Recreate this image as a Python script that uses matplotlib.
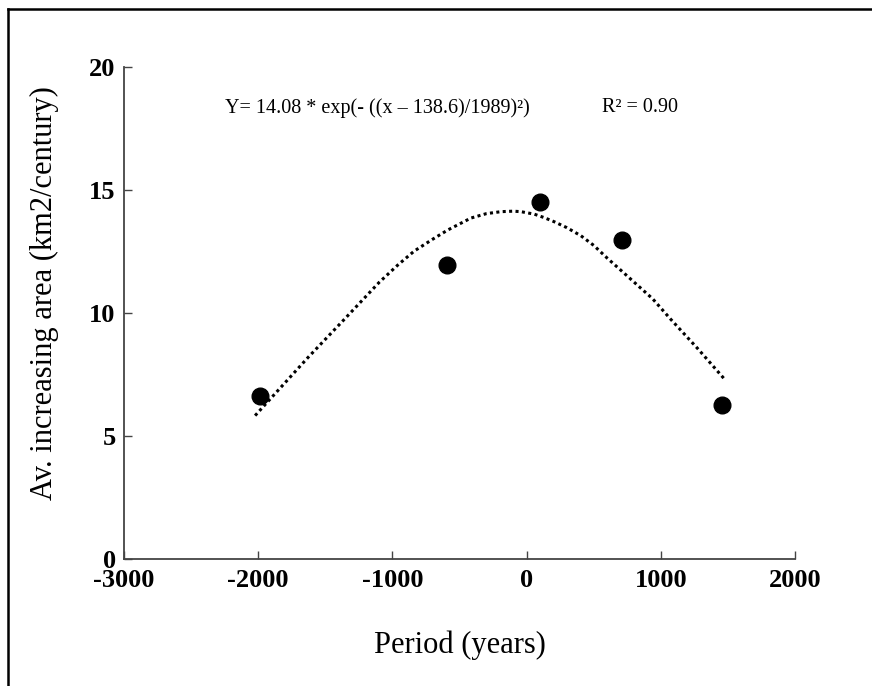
import matplotlib
matplotlib.use('Agg')
import matplotlib.pyplot as plt
from matplotlib.lines import Line2D

plt.rcParams['font.family'] = ['Liberation Serif', 'DejaVu Serif']
plt.rcParams['axes.unicode_minus'] = False

# observed points
period = [-1990, -592, 101, 711, 1459]
area = [6.61, 11.94, 14.50, 12.95, 6.25]

# fitted curve
fit_x = [-2023, -1631, -1359, -1098, -960, -837, -700, -589, -415, -300, -191,
         -100, -42, 57, 130, 206, 300, 405, 500, 603, 700, 802, 939, 1075,
         1274, 1480]
fit_y = [5.83, 8.18, 9.74, 11.25, 11.95, 12.52, 13.00, 13.37, 13.86, 14.04,
         14.12, 14.14, 14.12, 14.02, 13.88, 13.71, 13.47, 13.14, 12.75, 12.22,
         11.75, 11.25, 10.58, 9.74, 8.56, 7.28]

xticks = [-3000, -2000, -1000, 0, 1000, 2000]
yticks = [0, 5, 10, 15, 20]

fig = plt.figure(figsize=(8.72, 6.86), dpi=100)
ax = fig.add_axes([0.1422, 0.1851, 0.7695, 0.7172])

ax.plot(fit_x, fit_y, color='black', linestyle=(0, (1, 1.1)), linewidth=2.2)
ax.plot(period, area, 'o', color='black', markersize=12)

ax.set_xlim(-3000, 2000)
ax.set_ylim(0, 20)
ax.set_xticks(xticks)
ax.set_xticklabels([str(t) for t in xticks], fontweight='bold', fontsize=19)
ax.set_yticks(yticks)
ax.set_yticklabels([str(t) for t in yticks], fontweight='bold', fontsize=19)
ax.tick_params(direction='in', length=6, width=1, color='#444444', pad=6)
ax.tick_params(axis='x', pad=7)

for s in ['top', 'right']:
    ax.spines[s].set_visible(False)
for s in ['left', 'bottom']:
    ax.spines[s].set_color('#444444')
    ax.spines[s].set_linewidth(1.3)

ax.set_xlabel('Period (years)', fontsize=22, labelpad=28)
ax.set_ylabel('Av. increasing area (km2/century)', fontsize=22)
ax.yaxis.set_label_coords(-0.097, 0.54)

fig.text(225 / 872, 1 - 108 / 686, 'Y= 14.08 * exp(- ((x \u2013 138.6)/1989)\u00b2)',
         fontsize=14.5, va='center', ha='left')
fig.text(602 / 872, 1 - 108 / 686, 'R\u00b2 = 0.90', fontsize=14.5, va='center', ha='left')

# frame around the figure (top and left edges visible)
fig.add_artist(Line2D([8 / 872, 1.0], [1 - 9 / 686, 1 - 9 / 686],
                      transform=fig.transFigure, color='black', linewidth=1.8))
fig.add_artist(Line2D([8 / 872, 8 / 872], [0.0, 1 - 9 / 686],
                      transform=fig.transFigure, color='black', linewidth=1.8))

fig.savefig('out.png', dpi=100)
